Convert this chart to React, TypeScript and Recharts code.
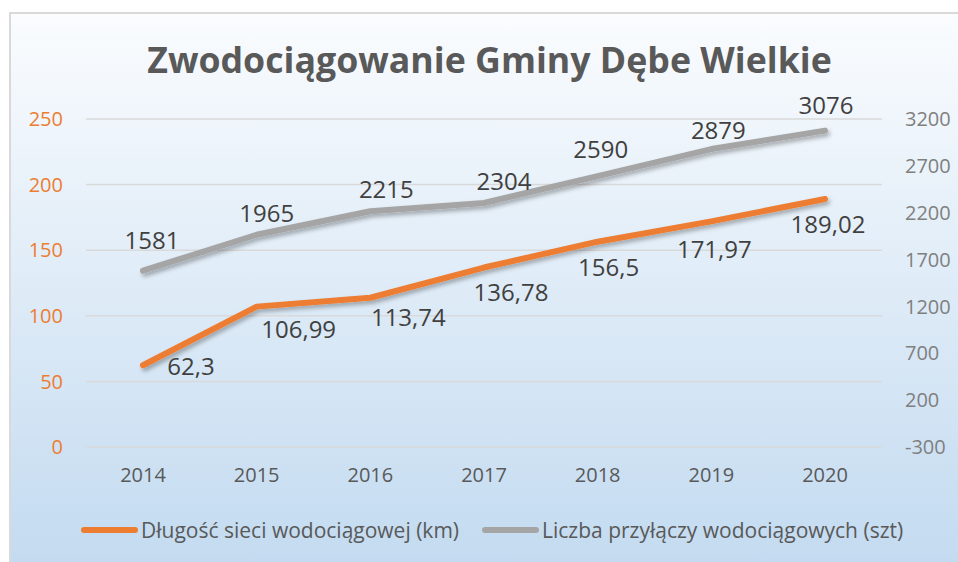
import React from "react";
import {
  LineChart,
  Line,
  XAxis,
  YAxis,
  CartesianGrid,
  LabelList,
} from "recharts";

const years = ["2014", "2015", "2016", "2017", "2018", "2019", "2020"];
const networkKm = [62.3, 106.99, 113.74, 136.78, 156.5, 171.97, 189.02];
const connections = [1581, 1965, 2215, 2304, 2590, 2879, 3076];

const leftTicks = [0, 50, 100, 150, 200, 250];
const rightTicks = [-300, 200, 700, 1200, 1700, 2200, 2700, 3200];

const ORANGE = "#ED7D31";
const GRAY = "#A5A5A5";
const FONT = "'Open Sans', sans-serif";

// label nudges copied by eye from the excel chart (labels were dragged around)
const grayNudge = [
  [9, -31], [10, -22], [16, -23], [20, -22], [3, -28], [7, -20], [1, -26],
];
const orangeNudge = [
  [48, 0], [42, 22], [38, 19], [27, 24], [11, 25], [3, 27], [3, 24],
];

const data = years.map((year, i) => ({
  year,
  km: networkKm[i],
  szt: connections[i],
}));

const fmt = (v: number) => String(v).replace(".", ",");

const makeLabel = (nudge: number[][]) => (props: any) => {
  const { x, y, value, index } = props;
  const [dx, dy] = nudge[index] || [0, 0];
  return (
    <text
      x={x + dx}
      y={y + dy}
      textAnchor="middle"
      dominantBaseline="central"
      fill="#404040"
      fontSize={24}
      fontFamily={FONT}
    >
      {fmt(value)}
    </text>
  );
};

function LegendItem({ color, label }: { color: string; label: string }) {
  return (
    <div style={{ display: "flex", alignItems: "center" }}>
      <div
        style={{
          width: 57,
          height: 6,
          borderRadius: 3,
          background: color,
          marginRight: 3,
        }}
      />
      <span>{label}</span>
    </div>
  );
}

export default function App() {
  return (
    <div
      style={{
        position: "absolute",
        left: 0,
        top: 0,
        width: 958,
        height: 562,
        overflow: "hidden",
        fontFamily: FONT,
      }}
    >
      <div
        style={{
          position: "absolute",
          left: 9,
          top: 12,
          width: 960,
          height: 560,
          borderLeft: "2px solid #d9d9d9",
          borderTop: "2px solid #d9d9d9",
          background: "linear-gradient(to bottom, #fafcfe 0%, #c2daf0 100%)",
        }}
      />
      <div
        style={{
          position: "absolute",
          left: 0,
          width: 979,
          top: 35,
          textAlign: "center",
          fontSize: 35.7,
          fontWeight: 700,
          color: "#595959",
          lineHeight: "48px",
        }}
      >
        Zwodociągowanie Gminy Dębe Wielkie
      </div>
      <div style={{ position: "absolute", left: 0, top: 0 }}>
        <LineChart
          width={958}
          height={562}
          data={data}
          margin={{ top: 119, right: 0, bottom: 85, left: 0 }}
        >
          <defs>
            <filter id="lineShadow" x="-10%" y="-20%" width="120%" height="140%">
              <feDropShadow dx="2" dy="3" stdDeviation="2" floodColor="#000" floodOpacity="0.3" />
            </filter>
          </defs>
          <CartesianGrid
            yAxisId="left"
            vertical={false}
            stroke="#d9d9d9"
            strokeWidth={1.5}
          />
          <XAxis
            dataKey="year"
            axisLine={false}
            tickLine={false}
            tickSize={0}
            tickMargin={21}
            height={30}
            padding={{ left: 57, right: 57 }}
            tick={{ fill: "#595959", fontSize: 20, fontFamily: FONT }}
          />
          <YAxis
            yAxisId="left"
            orientation="left"
            width={86}
            domain={[0, 250]}
            ticks={leftTicks}
            axisLine={false}
            tickLine={false}
            tickSize={0}
            tickMargin={23}
            tick={{ fill: ORANGE, fontSize: 20, fontFamily: FONT }}
          />
          <YAxis
            yAxisId="right"
            orientation="right"
            width={76}
            domain={[-300, 3200]}
            ticks={rightTicks}
            axisLine={false}
            tickLine={false}
            tickSize={0}
            tickMargin={23}
            tick={{ fill: "#7f7f7f", fontSize: 20, fontFamily: FONT, textAnchor: "start" }}
          />
          <Line
            yAxisId="right"
            dataKey="szt"
            stroke={GRAY}
            strokeWidth={6}
            strokeLinecap="round"
            strokeLinejoin="round"
            dot={false}
            activeDot={false}
            filter="url(#lineShadow)"
            isAnimationActive={false}
          >
            <LabelList dataKey="szt" content={makeLabel(grayNudge)} />
          </Line>
          <Line
            yAxisId="left"
            dataKey="km"
            stroke={ORANGE}
            strokeWidth={6}
            strokeLinecap="round"
            strokeLinejoin="round"
            dot={false}
            activeDot={false}
            filter="url(#lineShadow)"
            isAnimationActive={false}
          >
            <LabelList dataKey="km" content={makeLabel(orangeNudge)} />
          </Line>
        </LineChart>
      </div>
      <div
        style={{
          position: "absolute",
          left: 81,
          top: 515,
          display: "flex",
          gap: 23,
          fontSize: 21,
          color: "#595959",
          lineHeight: "30px",
        }}
      >
        <LegendItem color={ORANGE} label="Długość sieci wodociągowej (km)" />
        <LegendItem color={GRAY} label="Liczba przyłączy wodociągowych (szt)" />
      </div>
    </div>
  );
}
